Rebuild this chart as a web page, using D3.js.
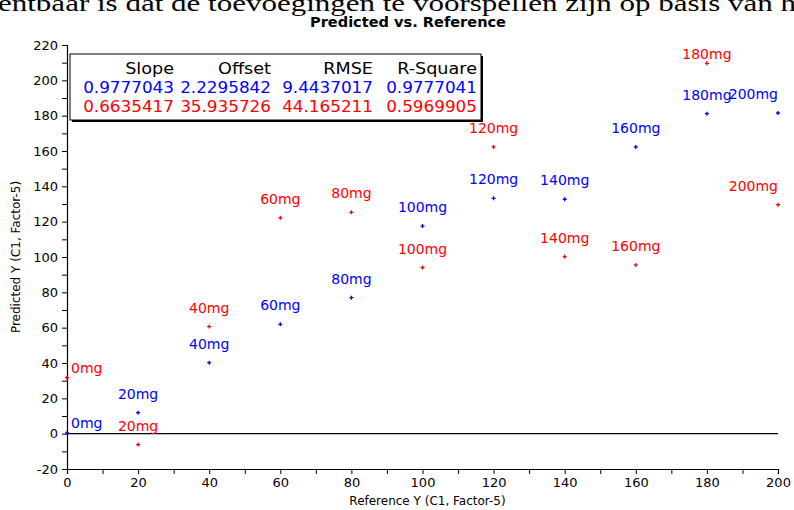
<!DOCTYPE html>
<html>
<head>
<meta charset="utf-8">
<script src="https://cdn.jsdelivr.net/npm/d3@7"></script>
<style>
  body { margin: 0; background: #fff; }
  svg { display: block; }
</style>
</head>
<body>
<div id="chart"></div>
<script>
// dimensiones
const width = 794
const height = 510
const margin = { top: 45, bottom: 41, left: 67, right: 16 }

// datos
const reference = [0, 20, 40, 60, 80, 100, 120, 140, 160, 180, 200]
const labels = ["0mg", "20mg", "40mg", "60mg", "80mg", "100mg", "120mg", "140mg", "160mg", "180mg", "200mg"]
const predictedBlue = [0.5, 11.9, 40.2, 61.9, 77, 117.5, 133.2, 132.7, 162.3, 181.1, 181.5]
const predictedRed = [31.7, -6.2, 60.6, 122.2, 125.3, 94, 162.3, 100.2, 95.5, 209.6, 129.6]
const statHeaders = ["Slope", "Offset", "RMSE", "R-Square"]
const statsBlue = ["0.9777043", "2.2295842", "9.4437017", "0.9777041"]
const statsRed = ["0.6635417", "35.935726", "44.165211", "0.5969905"]
const xTicks = d3.range(0, 201, 10)
const yTicks = d3.range(-20, 221, 10)

const blue = "#0000ff"
const red = "#ff0000"
const font = "'DejaVu Sans', sans-serif"

const svg = d3.select("#chart").append("svg").attr("width", width).attr("height", height)

// texto cortado del documento encima del grafico
svg.append("text")
  .attr("x", -2).attr("y", 10.5)
  .attr("font-family", "'Liberation Serif', serif")
  .attr("font-size", 24)
  .attr("textLength", 798).attr("lengthAdjust", "spacingAndGlyphs")
  .text("entbaar is dat de toevoegingen te voorspellen zijn op basis van h")

// titulo
svg.append("text")
  .attr("x", 408).attr("y", 27)
  .attr("text-anchor", "middle")
  .attr("font-family", font).attr("font-weight", "bold").attr("font-size", 14)
  .attr("textLength", 196).attr("lengthAdjust", "spacingAndGlyphs")
  .text("Predicted vs. Reference")

// escalas
const x = d3.scaleLinear().domain([0, 200]).range([margin.left, width - margin.right])
const y = d3.scaleLinear().domain([-20, 220]).range([height - margin.bottom, margin.top])

// ejes
const xAxis = d3.axisBottom(x).tickValues(xTicks).tickSize(5).tickFormat(d => d % 20 === 0 ? d : "")
const yAxis = d3.axisLeft(y).tickValues(yTicks).tickSize(5).tickFormat(d => d % 20 === 0 ? d : "")

const xAxisGroup = svg.append("g").attr("transform", `translate(0, ${y(-20)})`).call(xAxis)
const yAxisGroup = svg.append("g").attr("transform", `translate(${x(0)}, 0)`).call(yAxis)

for (const g of [xAxisGroup, yAxisGroup]) {
  g.select(".domain").attr("stroke", "#000").attr("stroke-width", 1.2)
  g.selectAll(".tick line").attr("stroke", "#000")
  g.selectAll(".tick text").attr("font-family", font).attr("font-size", 13).attr("fill", "#000")
}
yAxisGroup.selectAll(".tick text").attr("x", -9)
xAxisGroup.selectAll(".tick text").attr("y", 9)

// linea de cero
svg.append("line")
  .attr("x1", x(0)).attr("x2", x(200))
  .attr("y1", y(0)).attr("y2", y(0))
  .attr("stroke", "#000").attr("stroke-width", 1.2)

// titulos de ejes
svg.append("text")
  .attr("x", x(100) + 5).attr("y", 505)
  .attr("text-anchor", "middle")
  .attr("font-family", font).attr("font-size", 12)
  .text("Reference Y (C1, Factor-5)")

svg.append("text")
  .attr("transform", `translate(20, ${y(100)}) rotate(-90)`)
  .attr("text-anchor", "middle")
  .attr("font-family", font).attr("font-size", 12)
  .text("Predicted Y (C1, Factor-5)")

// series
const series = [
  { color: blue, values: predictedBlue },
  { color: red, values: predictedRed }
]

const elementGroup = svg.append("g")
series.forEach(s => {
  const data = reference.map((r, i) => ({ ref: r, pred: s.values[i], label: labels[i] }))
  const g = elementGroup.append("g")

  g.selectAll("path").data(data).join("path")
    .attr("d", d => `M${x(d.ref) - 2},${y(d.pred)}h4M${x(d.ref)},${y(d.pred) - 2}v4`)
    .attr("stroke", s.color).attr("stroke-width", 1.3)

  g.selectAll("text").data(data).join("text")
    .attr("font-family", font).attr("font-size", 14)
    .attr("fill", s.color)
    .text(d => d.label)
    .each(function (d) {
      const w = this.getComputedTextLength()
      let left = x(d.ref) - w / 2
      let dy = 14
      if (left < x(0) + 4) { left = x(0) + 4; dy = 5 }
      if (left + w > x(200)) left = x(200) - w
      const base = Math.max(y(d.pred) - dy, margin.top + 14)
      d3.select(this).attr("x", left).attr("y", base)
    })
})

// cuadro de estadisticas
const box = { x: 70, y: 54, w: 411, h: 66 }
svg.append("rect")
  .attr("x", box.x + 2).attr("y", box.y + 2).attr("width", box.w).attr("height", box.h)
  .attr("fill", "#000")
svg.append("rect")
  .attr("x", box.x).attr("y", box.y).attr("width", box.w).attr("height", box.h)
  .attr("fill", "#fff").attr("stroke", "#000").attr("stroke-width", 1)

const colRight = [174, 271, 373, 477]
const rows = [
  { values: statHeaders, color: "#000", y: 74, stretch: 1.1 },
  { values: statsBlue, color: blue, y: 93, stretch: 1.05 },
  { values: statsRed, color: red, y: 112, stretch: 1.05 }
]
rows.forEach(r => {
  svg.append("g").selectAll("text").data(r.values).join("text")
    .attr("x", (d, i) => colRight[i]).attr("y", r.y)
    .attr("text-anchor", "end")
    .attr("font-family", font).attr("font-size", 16)
    .attr("fill", r.color)
    .text(d => d)
    .each(function () {
      const w = this.getComputedTextLength()
      d3.select(this).attr("textLength", w * r.stretch).attr("lengthAdjust", "spacingAndGlyphs")
    })
})
</script>
</body>
</html>
